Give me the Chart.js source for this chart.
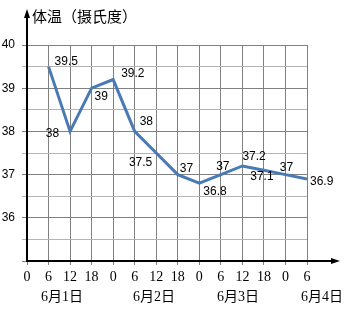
<!DOCTYPE html>
<html>
<head>
<meta charset="utf-8">
<script src="https://cdn.jsdelivr.net/npm/chart.js@4"></script>
<style>
  html, body { margin: 0; padding: 0; background: #fff; }
  canvas { display: block; }
</style>
</head>
<body>
<canvas id="temp_chart" width="344" height="312"></canvas>
<script>
const hours = ["0", "6", "12", "18", "0", "6", "12", "18", "0", "6", "12", "18", "0", "6"];
const temps = [null, 39.5, 38, 39, 39.2, 38, 37.5, 37, 36.8, 37, 37.2, 37.1, 37, 36.9];
const dayLabels = ["6月1日", "6月2日", "6月3日", "6月4日"];
const yTitle = "体温（摄氏度）";
const yMin = 35;
const yMax = 40;

// where the day labels sit, in category-index units
const dayLabelAt = [1.62, 5.9, 9.8, 13.7];
// [dx, dy, align] of each value label from its point
const labelOffsets = [
    null,
    [6, -5, "left"], [-11, 2, "right"], [3, 8, "left"], [8, -6, "left"],
    [5, -10, "left"], [-4, 10, "right"], [2, -6, "left"], [4, 8, "left"],
    [2, -8, "center"], [0, -9, "left"], [-2, 6, "center"], [1, -7, "center"],
    [3, 3, "left"],
];

const sans = "'Liberation Sans', Arial, sans-serif";
const serif = "'Liberation Serif', 'Times New Roman', 'Noto Sans CJK SC', serif";

const extras = {
    id: "extras",
    afterDatasetsDraw(chart) {
        const ctx = chart.ctx;
        const meta = chart.getDatasetMeta(0);
        ctx.save();
        // value labels
        ctx.fillStyle = "#000";
        ctx.font = "12px " + sans;
        ctx.textBaseline = "middle";
        meta.data.forEach((pt, i) => {
            const off = labelOffsets[i];
            if (!off || temps[i] === null) return;
            ctx.textAlign = off[2];
            ctx.fillText(String(temps[i]), pt.x + off[0], pt.y + off[1]);
        });
        // axes with arrows
        const area = chart.chartArea;
        ctx.strokeStyle = "#000";
        ctx.fillStyle = "#000";
        ctx.lineWidth = 2;
        ctx.beginPath();
        ctx.moveTo(area.left, area.bottom);
        ctx.lineTo(area.left, 14);
        ctx.moveTo(area.left - 1, area.bottom);
        ctx.lineTo(334, area.bottom);
        ctx.stroke();
        ctx.beginPath();
        ctx.moveTo(area.left, 9);
        ctx.lineTo(area.left - 3, 18);
        ctx.lineTo(area.left + 3, 18);
        ctx.closePath();
        ctx.fill();
        ctx.beginPath();
        ctx.moveTo(340, area.bottom);
        ctx.lineTo(331, area.bottom - 3);
        ctx.lineTo(331, area.bottom + 3);
        ctx.closePath();
        ctx.fill();
        // y title
        ctx.font = "15px 'Noto Sans CJK SC', sans-serif";
        ctx.textAlign = "left";
        ctx.fillText(yTitle, area.left + 5, 16);
        // day labels
        const xs = chart.scales.x;
        ctx.font = "14px " + serif;
        ctx.textAlign = "center";
        dayLabels.forEach((d, i) => {
            ctx.fillText(d, xs.getPixelForValue(dayLabelAt[i]), 297);
        });
        ctx.restore();
    },
};

new Chart(document.getElementById("temp_chart"), {
    type: "line",
    data: {
        labels: hours,
        datasets: [
            {
                data: temps,
                borderColor: "#4a7ab5",
                borderWidth: 3,
                pointRadius: 0,
                tension: 0,
                fill: false,
            },
        ],
    },
    options: {
        responsive: false,
        animation: false,
        layout: { padding: { top: 45, right: 37, left: 0, bottom: 0 } },
        plugins: { legend: { display: false }, tooltip: { enabled: false } },
        scales: {
            x: {
                offset: false,
                afterFit: (s) => { s.height = 51; },
                grid: { color: "#808080", lineWidth: 1, tickLength: 4, drawTicks: true },
                border: { display: false },
                ticks: {
                    autoSkip: false,
                    maxRotation: 0,
                    padding: 4,
                    color: "#000",
                    font: { family: serif, size: 14 },
                },
            },
            y: {
                min: yMin,
                max: yMax,
                afterFit: (s) => { s.width = 27; },
                grid: {
                    color: (c) => (c.tick && Number.isInteger(c.tick.value) ? "#808080" : "#b4b4b4"),
                    lineWidth: 1,
                    tickLength: 5,
                },
                border: { display: false },
                ticks: {
                    stepSize: 0.5,
                    padding: 7,
                    color: "#000",
                    font: { family: sans, size: 12 },
                    callback: (v) => (Number.isInteger(v) && v > yMin ? v : ""),
                },
            },
        },
    },
    plugins: [extras],
});
</script>
</body>
</html>
